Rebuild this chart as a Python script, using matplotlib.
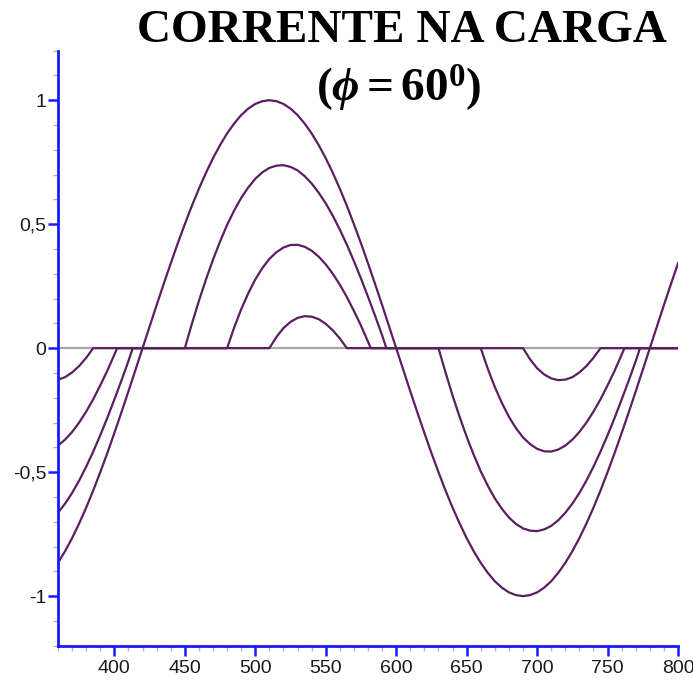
import matplotlib
matplotlib.use('Agg')
import matplotlib.pyplot as plt
from matplotlib.ticker import MultipleLocator, FixedLocator

# load current, phi = 60 deg; angle in degrees
# full conduction
x_full = list(range(360, 805, 5))
i_full = [-0.866, -0.819, -0.766, -0.707, -0.643, -0.574, -0.5, -0.423, -0.342,
          -0.259, -0.174, -0.087, 0.0, 0.087, 0.174, 0.259, 0.342, 0.423, 0.5,
          0.574, 0.643, 0.707, 0.766, 0.819, 0.866, 0.906, 0.94, 0.966, 0.985,
          0.996, 1.0, 0.996, 0.985, 0.966, 0.94, 0.906, 0.866, 0.819, 0.766,
          0.707, 0.643, 0.574, 0.5, 0.423, 0.342, 0.259, 0.174, 0.087, 0.0,
          -0.087, -0.174, -0.259, -0.342, -0.423, -0.5, -0.574, -0.643, -0.707,
          -0.766, -0.819, -0.866, -0.906, -0.94, -0.966, -0.985, -0.996, -1.0,
          -0.996, -0.985, -0.966, -0.94, -0.906, -0.866, -0.819, -0.766, -0.707,
          -0.643, -0.574, -0.5, -0.423, -0.342, -0.259, -0.174, -0.087, 0.0,
          0.087, 0.174, 0.259, 0.342]

# alpha = 90
x_a90 = [360, 365, 370, 375, 380, 385, 390, 395, 400, 405, 410, 413,
         450, 455, 460, 465, 470, 475, 480, 485, 490, 495, 500, 505, 510, 515,
         520, 525, 530, 535, 540, 545, 550, 555, 560, 565, 570, 575, 580, 585,
         590, 593,
         630, 635, 640, 645, 650, 655, 660, 665, 670, 675, 680, 685, 690, 695,
         700, 705, 710, 715, 720, 725, 730, 735, 740, 745, 750, 755, 760, 765,
         770, 773, 800]
i_a90 = [-0.664, -0.627, -0.584, -0.534, -0.478, -0.417, -0.351, -0.281, -0.207,
         -0.131, -0.052, 0.0,
         0.0, 0.098, 0.191, 0.277, 0.357, 0.43, 0.497, 0.555, 0.606, 0.648,
         0.683, 0.709, 0.727, 0.736, 0.738, 0.731, 0.717, 0.694, 0.664, 0.627,
         0.584, 0.534, 0.478, 0.417, 0.351, 0.281, 0.207, 0.131, 0.052, 0.0,
         0.0, -0.098, -0.191, -0.277, -0.357, -0.43, -0.497, -0.555, -0.606,
         -0.648, -0.683, -0.709, -0.727, -0.736, -0.738, -0.731, -0.717, -0.694,
         -0.664, -0.627, -0.584, -0.534, -0.478, -0.417, -0.351, -0.281, -0.207,
         -0.131, -0.052, 0.0, 0.0]

# alpha = 120
x_a120 = [360, 365, 370, 375, 380, 385, 390, 395, 400, 402,
          480, 485, 490, 495, 500, 505, 510, 515, 520, 525, 530, 535, 540, 545,
          550, 555, 560, 565, 570, 575, 580, 582,
          660, 665, 670, 675, 680, 685, 690, 695, 700, 705, 710, 715, 720, 725,
          730, 735, 740, 745, 750, 755, 760, 762, 800]
i_a120 = [-0.393, -0.369, -0.338, -0.3, -0.256, -0.206, -0.15, -0.091, -0.026, 0.0,
          0.0, 0.083, 0.157, 0.221, 0.277, 0.323, 0.36, 0.387, 0.406, 0.416,
          0.417, 0.409, 0.393, 0.369, 0.338, 0.3, 0.256, 0.206, 0.15, 0.091,
          0.026, 0.0,
          0.0, -0.083, -0.157, -0.221, -0.277, -0.323, -0.36, -0.387, -0.406,
          -0.416, -0.417, -0.409, -0.393, -0.369, -0.338, -0.3, -0.256, -0.206,
          -0.15, -0.091, -0.026, 0.0, 0.0]

# alpha = 150
x_a150 = [360, 365, 370, 375, 380, 385,
          510, 515, 520, 525, 530, 535, 540, 545, 550, 555, 560, 565,
          690, 695, 700, 705, 710, 715, 720, 725, 730, 735, 740, 745, 800]
i_a150 = [-0.127, -0.117, -0.098, -0.072, -0.039, 0.0,
          0.0, 0.045, 0.081, 0.106, 0.122, 0.129, 0.127, 0.117, 0.098, 0.072,
          0.039, 0.0,
          0.0, -0.045, -0.081, -0.106, -0.122, -0.129, -0.127, -0.117, -0.098,
          -0.072, -0.039, 0.0, 0.0]

x_ticks = [400, 450, 500, 550, 600, 650, 700, 750, 800]
y_ticks = [-1, -0.5, 0, 0.5, 1]
y_labels = ['-1', '-0,5', '0', '0,5', '1']

axis_blue = '#1a1aff'
curve_col = '#5a1f5e'

fig = plt.figure(figsize=(6.93, 6.84), dpi=100)
ax = fig.add_axes([0.0837, 0.056, 0.8947, 0.870])

ax.plot([360, 800], [0, 0], color='#a8a8a8', lw=1.6, zorder=1)
for xs, ys in [(x_full, i_full), (x_a90, i_a90), (x_a120, i_a120), (x_a150, i_a150)]:
    ax.plot(xs, ys, color=curve_col, lw=1.6, zorder=2)

ax.set_xlim(360, 800)
ax.set_ylim(-1.2, 1.2)

for s in ['top', 'right']:
    ax.spines[s].set_visible(False)
for s in ['left', 'bottom']:
    ax.spines[s].set_color(axis_blue)
    ax.spines[s].set_linewidth(2.0)

ax.xaxis.set_major_locator(FixedLocator(x_ticks))
ax.xaxis.set_minor_locator(MultipleLocator(10))
ax.yaxis.set_major_locator(FixedLocator(y_ticks))
ax.yaxis.set_minor_locator(MultipleLocator(0.1))
ax.set_yticklabels(y_labels)

ax.tick_params(which='major', length=7.5, width=1.8, color=axis_blue,
               labelsize=14, labelcolor='#1a1a1a')
ax.tick_params(axis='x', which='major', pad=3)
ax.tick_params(axis='y', which='major', pad=1)
ax.tick_params(which='minor', length=3.5, width=1.0, color='#b4b4b4')
for lab in ax.get_xticklabels() + ax.get_yticklabels():
    lab.set_family(['Liberation Sans', 'DejaVu Sans'])

plt.rcParams['mathtext.fontset'] = 'custom'
plt.rcParams['mathtext.rm'] = 'Liberation Serif:bold'
plt.rcParams['mathtext.bf'] = 'Liberation Serif:bold'
plt.rcParams['mathtext.it'] = 'Liberation Serif:italic:bold'

fig.text(0.580, 0.938, 'CORRENTE NA CARGA', ha='center', va='baseline',
         fontsize=34, fontweight='bold', family='Liberation Serif')
fig.text(0.576, 0.852, r'$(\phi = 60^0)$', ha='center', va='baseline',
         fontsize=34)

fig.savefig('out.png', dpi=100)
